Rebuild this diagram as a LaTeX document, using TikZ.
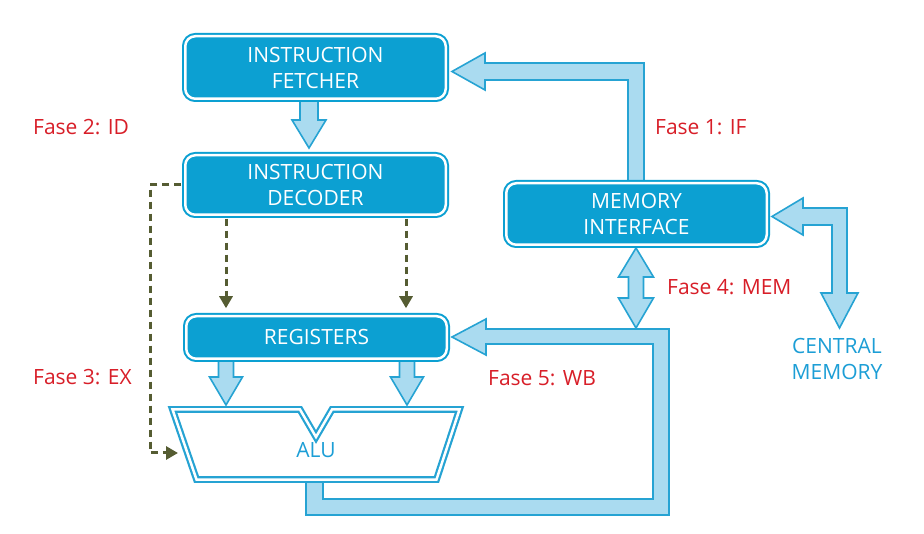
\documentclass[tikz,border=0pt]{standalone}
\usepackage{fontspec}
\setmainfont{Open Sans}
\usetikzlibrary{arrows.meta}
\definecolor{boxc}{RGB}{12,160,210}
\definecolor{arrc}{RGB}{38,163,211}
\definecolor{arrf}{RGB}{170,219,240}
\definecolor{redc}{RGB}{216,30,40}
\definecolor{txtb}{RGB}{28,158,214}
\definecolor{olivec}{RGB}{85,92,50}
\tikzset{
  boxst/.style={draw=boxc, fill=boxc, line width=2pt, double=white, double distance=2.5pt,
    rounded corners=10pt, text=white, font=\fontsize{21}{26}\selectfont, align=center,
    inner sep=0pt, minimum width=260.5pt},
  arrowst/.style={draw=arrc, fill=arrf, line width=1.6pt, line join=miter},
  alust/.style={draw=arrc, fill=white, line width=2.2pt, double=white, double distance=2.5pt, line join=miter},
  dashst/.style={draw=olivec, line width=3pt, dash pattern=on 7pt off 5pt, -{Triangle[length=12pt,width=13pt]}},
  phase/.style={text=redc, font=\fontsize{21}{26}\selectfont, inner sep=0pt, anchor=base west},
  bluetxt/.style={text=txtb, font=\fontsize{21}{26}\selectfont, inner sep=0pt, align=center}
}
\begin{document}
\begin{tikzpicture}[x=1pt,y=-1pt]
\useasboundingbox[fill=white] (0,0) rectangle (924,534);

% block arrows (drawn first, partly hidden by boxes)
% memory interface -> instruction fetcher
\draw[arrowst] (628,190) -- (628,80) -- (485,80) -- (485,90) -- (452,71.5) -- (485,53) -- (485,63) -- (644,63) -- (644,190) -- cycle;
% fetcher -> decoder
\draw[arrowst] (300,95) -- (300,120) -- (292,120) -- (309,148) -- (326,120) -- (318,120) -- (318,95) -- cycle;
% registers -> ALU
\draw[arrowst] (218.5,355) -- (218.5,377) -- (209.5,377) -- (226,405) -- (242.5,377) -- (233.5,377) -- (233.5,355) -- cycle;
\draw[arrowst] (399.5,355) -- (399.5,377) -- (390.5,377) -- (407,405) -- (423.5,377) -- (414.5,377) -- (414.5,355) -- cycle;
% ALU -> registers (write back bus)
\draw[arrowst] (306,470) -- (306,515) -- (669,515) -- (669,329) -- (486,329) -- (486,319) -- (452,337) -- (486,355) -- (486,344) -- (653,344) -- (653,499) -- (323,499) -- (323,470) -- cycle;
% memory interface <-> bus
\draw[arrowst] (636,248) -- (653.5,277) -- (643.5,277) -- (643.5,298) -- (653.5,298) -- (636,328) -- (618.5,298) -- (628.5,298) -- (628.5,277) -- (618.5,277) -- cycle;
% memory interface <-> central memory
\draw[arrowst] (772,216.5) -- (803,198) -- (803,208) -- (847,208) -- (847,293) -- (858,293) -- (839.5,328) -- (821,293) -- (832,293) -- (832,225) -- (803,225) -- (803,235) -- cycle;

% ALU
\draw[alust] (172.5,409.5) -- (300,409.5) -- (316,437) -- (332,409.5) -- (459.5,409.5) -- (436.5,479.5) -- (196.5,479.5) -- cycle;
\node[bluetxt] (alu) at (316,450.5) {ALU};

% boxes
\node[boxst, minimum height=62.5pt] (IF) at (315.5,67.5) {INSTRUCTION\\FETCHER};
\node[boxst, minimum height=59.5pt] (ID) at (315.5,185) {INSTRUCTION\\DECODER};
\node[boxst, minimum height=42.5pt] (REG) at (316.5,337.5) {REGISTERS};
\node[boxst, minimum height=61.5pt] (MI) at (636.5,214) {MEMORY\\INTERFACE};

% dashed control connectors
\coordinate (dl) at (226,0);
\coordinate (dr) at (406,0);
\draw[dashst, shorten <=3pt, shorten >=7pt] (ID.south -| dl) -- (REG.north -| dl);
\draw[dashst, shorten <=3pt, shorten >=7pt] (ID.south -| dr) -- (REG.north -| dr);
\coordinate (exl) at (150,453);
\coordinate (alul) at (178,453);
\draw[dashst, shorten <=3pt] (ID.west) -| (exl) -- (alul);

% labels
\node[phase] (f1) at (655,135) {Fase 1: IF};
\node[phase] (f2) at (33,135) {Fase 2: ID};
\node[phase] (f3) at (33,385) {Fase 3: EX};
\node[phase] (f4) at (667,295) {Fase 4: MEM};
\node[phase] (f5) at (488,386) {Fase 5: WB};
\node[bluetxt] (cm) at (837,358.5) {CENTRAL\\MEMORY};
\end{tikzpicture}
\end{document}
